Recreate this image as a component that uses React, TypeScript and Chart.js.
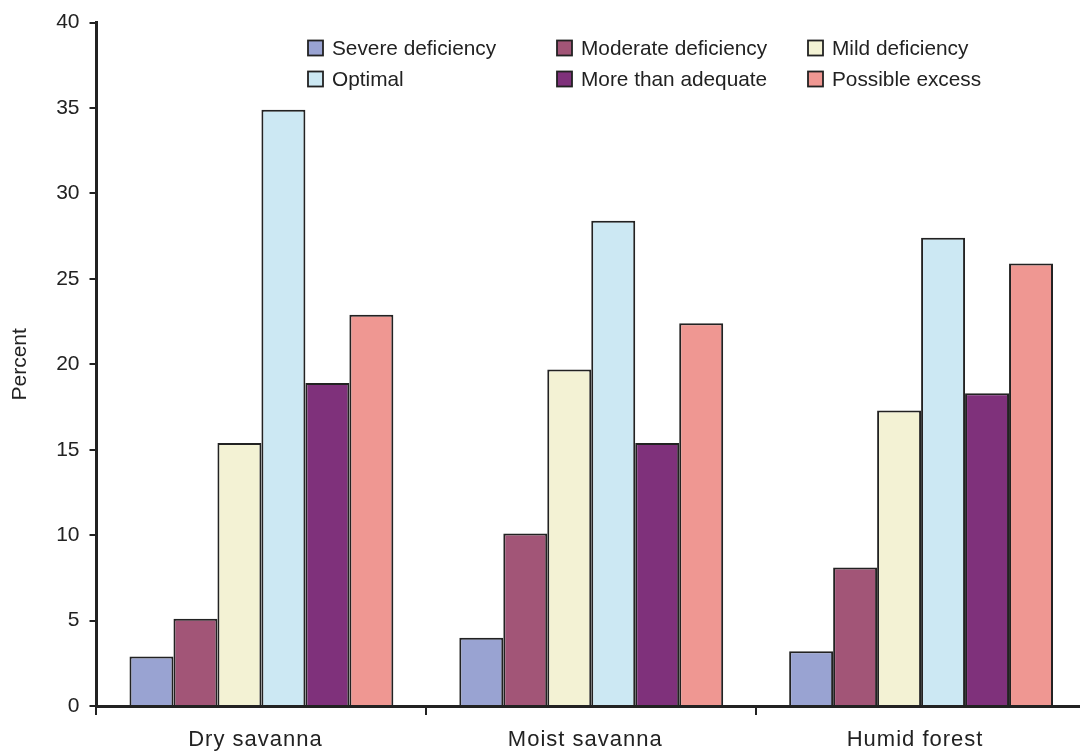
import React, { useEffect, useRef } from "react";
import { Chart, registerables } from "chart.js";

Chart.register(...registerables);

const categories = ["Dry savanna", "Moist savanna", "Humid forest"];
const seriesNames = [
  "Severe deficiency",
  "Moderate deficiency",
  "Mild deficiency",
  "Optimal",
  "More than adequate",
  "Possible excess",
];
const severe = [2.9, 4.0, 3.2];
const moderate = [5.1, 10.1, 8.1];
const mild = [15.4, 19.7, 17.3];
const optimal = [34.9, 28.4, 27.4];
const moreThanAdequate = [18.9, 15.4, 18.3];
const possibleExcess = [22.9, 22.4, 25.9];
const yTicks = [0, 5, 10, 15, 20, 25, 30, 35, 40];

const colors = ["#99A3D2", "#A25577", "#F3F2D4", "#CCE8F3", "#7F317B", "#EF9792"];
const FONT = "'Liberation Sans', Arial, sans-serif";
const INK = "#222222";

const legendPlugin = {
  id: "gridLegend",
  afterDraw(chart: any) {
    const ctx = chart.ctx;
    const colX = [308, 557, 808];
    const rowY = [48, 79];
    ctx.save();
    ctx.font = `20.8px ${FONT}`;
    ctx.textBaseline = "middle";
    ctx.textAlign = "left";
    chart.data.datasets.forEach((ds: any, i: number) => {
      const col = i % 3;
      const row = Math.floor(i / 3);
      const x = colX[col];
      const y = rowY[row];
      ctx.fillStyle = ds.backgroundColor;
      ctx.fillRect(x, y - 7.5, 15, 15);
      ctx.strokeStyle = INK;
      ctx.lineWidth = 1.8;
      ctx.strokeRect(x, y - 7.5, 15, 15);
      ctx.fillStyle = INK;
      ctx.fillText(ds.label, x + 24, y + 1);
    });
    ctx.restore();
  },
};

const xLabelPlugin = {
  id: "xLabels",
  afterDraw(chart: any) {
    const ctx = chart.ctx;
    const xs = chart.scales.x;
    ctx.save();
    ctx.font = `22px ${FONT}`;
    (ctx as any).letterSpacing = "1px";
    ctx.fillStyle = INK;
    ctx.textAlign = "center";
    ctx.textBaseline = "middle";
    (chart.data.labels as string[]).forEach((lab, i) => {
      ctx.fillText(lab, xs.getPixelForValue(i) - 6, 740);
    });
    ctx.restore();
  },
};

export default function App() {
  const ref = useRef<HTMLCanvasElement>(null);
  useEffect(() => {
    if (!ref.current) return;
    const values = [severe, moderate, mild, optimal, moreThanAdequate, possibleExcess];
    const chart = new Chart(ref.current, {
      type: "bar",
      data: {
        labels: categories,
        datasets: values.map((v, i) => ({
          label: seriesNames[i],
          data: v,
          backgroundColor: colors[i],
          borderColor: INK,
          borderWidth: 2,
          borderSkipped: "bottom",
          categoryPercentage: 0.8,
          barPercentage: 1.0,
        })),
      },
      options: {
        responsive: false,
        animation: false,
        layout: { padding: { top: 21, right: 14, left: 0, bottom: 0 } },
        plugins: {
          legend: { display: false },
          tooltip: { enabled: false },
        },
        scales: {
          x: {
            grid: {
              display: true,
              drawOnChartArea: false,
              drawTicks: true,
              tickLength: 9,
              color: INK,
              lineWidth: 2,
              offset: true,
            },
            border: { display: true, color: INK, width: 3 },
            ticks: { display: false },
            afterFit(scale: any) {
              scale.height = 48;
            },
          },
          y: {
            min: 0,
            max: 40,
            afterBuildTicks(scale: any) {
              scale.ticks = yTicks.map((v) => ({ value: v }));
            },
            grid: {
              display: true,
              drawOnChartArea: false,
              drawTicks: true,
              tickLength: 7,
              color: INK,
              lineWidth: 2,
            },
            border: { display: true, color: INK, width: 3 },
            ticks: {
              color: INK,
              font: { family: FONT, size: 21 },
              padding: 10,
            },
            title: {
              display: true,
              text: "Percent",
              color: INK,
              font: { family: FONT, size: 21 },
              padding: { top: 8, bottom: 0 },
            },
            afterFit(scale: any) {
              scale.width = 96.5;
            },
          },
        },
      },
      plugins: [legendPlugin, xLabelPlugin],
    });
    return () => chart.destroy();
  }, []);
  return (
    <div
      style={{
        position: "fixed",
        left: 0,
        top: 0,
        width: 1080,
        height: 754,
        overflow: "hidden",
        background: "#fff",
      }}
    >
      <canvas ref={ref} width={1100} height={754} style={{ display: "block" }} />
    </div>
  );
}
